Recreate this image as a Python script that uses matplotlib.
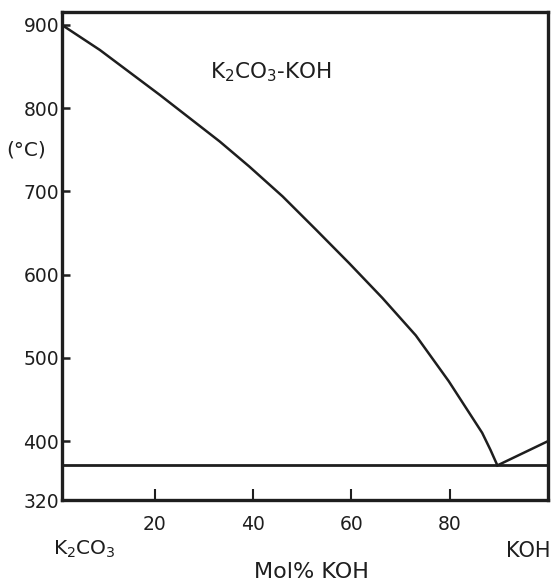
import numpy as np
import matplotlib
matplotlib.use("Agg")
import matplotlib.pyplot as plt

# Data
liquidus_k2co3_x = [1.1, 8.8, 21.0, 33.2, 39.2, 46.0, 52.8, 59.5, 66.3, 73.1, 79.8, 86.6, 88.3, 89.7]
liquidus_k2co3_t = [900, 870, 816, 760, 730, 694, 654, 614, 572, 527, 472, 410, 388, 367]
liquidus_koh_x = [89.7, 100.0]
liquidus_koh_t = [367, 400]
eutectic_t = 367
x_ticks = [20, 40, 60, 80]
y_ticks = [320, 400, 500, 600, 700, 800, 900]

W, H = 551, 586
fig = plt.figure(figsize=(W / 100, H / 100), dpi=100)
ax = fig.add_axes([62 / W, 1 - 500 / H, (548 - 62) / W, (500 - 12) / H])

k = 0.884  # compressed segment below 400 (broken axis in original)


def fwd(y):
    y = np.asarray(y, dtype=float)
    return np.where(y < 400, 400 - (400 - y) * k, y)


def inv(v):
    v = np.asarray(v, dtype=float)
    return np.where(v < 400, 400 - (400 - v) / k, v)


ax.set_yscale('function', functions=(fwd, inv))

lc = '#1e1e1e'
ax.plot(liquidus_k2co3_x, liquidus_k2co3_t, color=lc, lw=1.8,
        solid_joinstyle='round', solid_capstyle='round')
ax.plot(liquidus_koh_x, liquidus_koh_t, color=lc, lw=1.8)
ax.axhline(eutectic_t, color=lc, lw=2.0)

ax.set_xlim(1.1, 100)
ax.set_ylim(320, 915.6)
ax.set_xticks(x_ticks)
ax.set_xticklabels([str(v) for v in x_ticks])
ax.set_yticks(y_ticks)
ax.set_yticklabels([str(v) for v in y_ticks])
ax.yaxis.set_minor_locator(matplotlib.ticker.NullLocator())
ax.xaxis.set_minor_locator(matplotlib.ticker.NullLocator())

for s in ax.spines.values():
    s.set_linewidth(2.4)
    s.set_color(lc)

ax.tick_params(axis='y', direction='in', length=6, width=1.8, pad=2,
               labelsize=13.5, colors=lc)
ax.tick_params(axis='x', direction='in', length=8, width=1.5, pad=11,
               labelsize=13.5, colors=lc)

fig.text(271 / W, 1 - 72 / H, r'K$_2$CO$_3$-KOH', fontsize=15.5, ha='center',
         va='center', color=lc)
fig.text(26 / W, 1 - 150 / H, '(°C)', fontsize=14.5, ha='center', va='center',
         color=lc)
fig.text(311 / W, 1 - 572 / H, 'Mol% KOH', fontsize=16, ha='center',
         va='center', color=lc)
fig.text(53 / W, 1 - 549 / H, r'K$_2$CO$_3$', fontsize=14.5, ha='left',
         va='center', color=lc)
fig.text(551 / W, 1 - 551 / H, 'KOH', fontsize=15, ha='right',
         va='center', color=lc)

fig.savefig('out.png', dpi=100, facecolor='white')
